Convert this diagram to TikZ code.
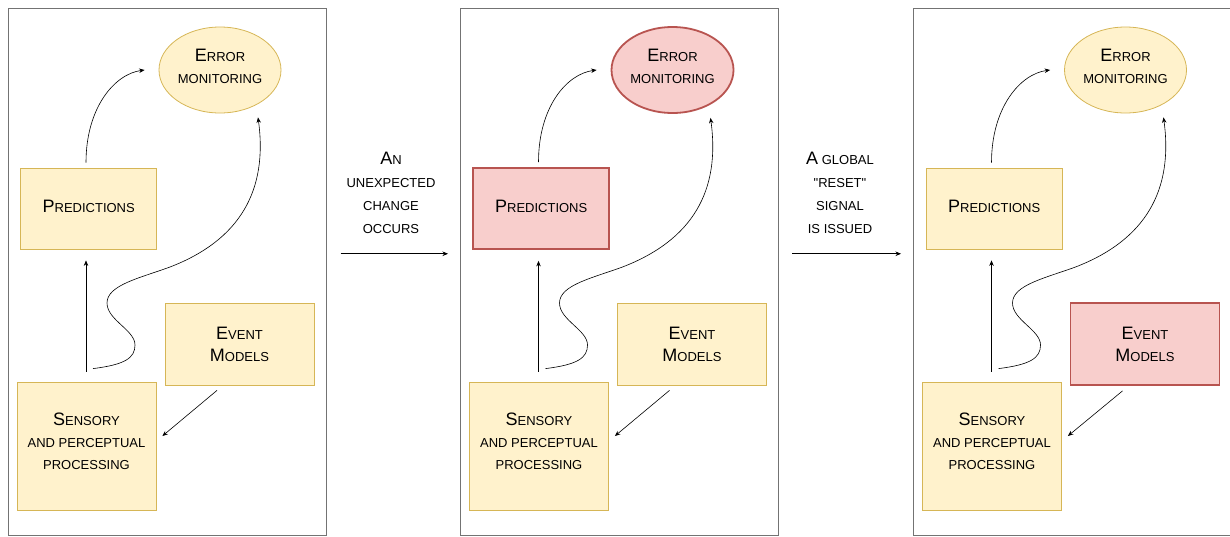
\documentclass[tikz,border=0pt]{standalone}
\usepackage{fontspec}
\setmainfont{Liberation Sans}[Ligatures=TeXOff]
\usetikzlibrary{arrows.meta,calc,shapes.geometric}
\definecolor{yfill}{HTML}{FFF2CC}
\definecolor{ydraw}{HTML}{D6B656}
\definecolor{rfill}{HTML}{F8CECC}
\definecolor{rdraw}{HTML}{B85450}
\newcommand{\Lc}[1]{{\fontsize{18}{22}\selectfont #1}}
\newcommand{\Lk}[1]{{\fontsize{18}{23}\selectfont #1}}
\tikzset{
  yelbox/.style={draw=ydraw, fill=yfill, line width=0.8pt, inner sep=0pt},
  redbox/.style={draw=rdraw, fill=rfill, line width=1.8pt, inner sep=0pt},
  txt/.style={align=center, font=\fontsize{13}{22}\selectfont, inner sep=0pt},
  midtxt/.style={align=center, font=\fontsize{13}{23}\selectfont, inner sep=0pt},
  arr/.style={-{Stealth[length=5.5pt,width=4.5pt]}, line width=0.6pt},
  framebox/.style={draw=black!55, line width=1pt, inner sep=0pt}
}
\newcommand{\panel}[5]{%
\begin{scope}[xshift=#1pt]
  \node[framebox, minimum width=318pt, minimum height=527.5pt, anchor=north west] (#2fr) at (7.5,7.5) {};
  \node[ellipse, #3, minimum width=122pt, minimum height=86pt] (#2err) at (220,70) {};
  \node[txt] (#2errt) at (220,66) {\Lc{E}RROR\\MONITORING};
  \node[#4, minimum width=136pt, minimum height=81pt] (#2pred) at (88.7,208.5) {};
  \node[txt] (#2predt) at (88.7,206.5) {\Lc{P}REDICTIONS};
  \node[#5, minimum width=149pt, minimum height=82pt] (#2ev) at (239.5,344) {};
  \node[txt] (#2evt) at (239.5,344.5) {\Lc{E}VENT\\\Lc{M}ODELS};
  \node[yelbox, minimum width=139pt, minimum height=128pt] (#2sens) at (86.5,446) {};
  \node[txt] (#2senst) at (86.5,441.5) {\Lc{S}ENSORY\\AND PERCEPTUAL\\PROCESSING};
  \draw[arr] ($(#2pred.north)+(-2.7,-5)$) .. controls +(0,-55) and +(-30,4) .. ($(#2err.west)+(-14,0)$);
  \draw[arr] ($(#2sens.north)+(-0.5,-10)$) -- ($(#2pred.south)+(-2.7,11)$);
  \draw[arr] ($(#2sens.north)+(6.5,-13)$) .. controls +(32,-4) and +(0,13) .. (135,345)
     .. controls +(0,-15) and +(0,17) .. (107,303)
     .. controls +(0,-18) and +(-30,11) .. (170,267)
     .. controls +(70,-27) and +(10,73) .. ($(#2err.south)+(38,4)$);
  \draw[arr] ($(#2ev.south)+(-22.5,5)$) -- ($(#2sens.east)+(6,-10)$);
\end{scope}}
\begin{document}
\begin{tikzpicture}[x=1pt,y=-1pt]
  \useasboundingbox (0,0) rectangle (1230,536);
  \panel{0}{a}{yelbox}{yelbox}{yelbox}
  \panel{452.5}{b}{redbox}{redbox}{yelbox}
  \panel{905.5}{c}{yelbox}{yelbox}{redbox}
  \node[midtxt] (t1) at (391,193) {\Lk{A}N\\UNEXPECTED\\CHANGE\\OCCURS};
  \node[midtxt] (t2) at (840,193) {\Lk{A} GLOBAL\\"RESET"\\SIGNAL\\IS ISSUED};
  \draw[arr] ($(afr.east)+(14,-18)$) -- ($(bfr.west)+(-12,-18)$);
  \draw[arr] ($(bfr.east)+(13,-18)$) -- ($(cfr.west)+(-12,-18)$);
\end{tikzpicture}
\end{document}
